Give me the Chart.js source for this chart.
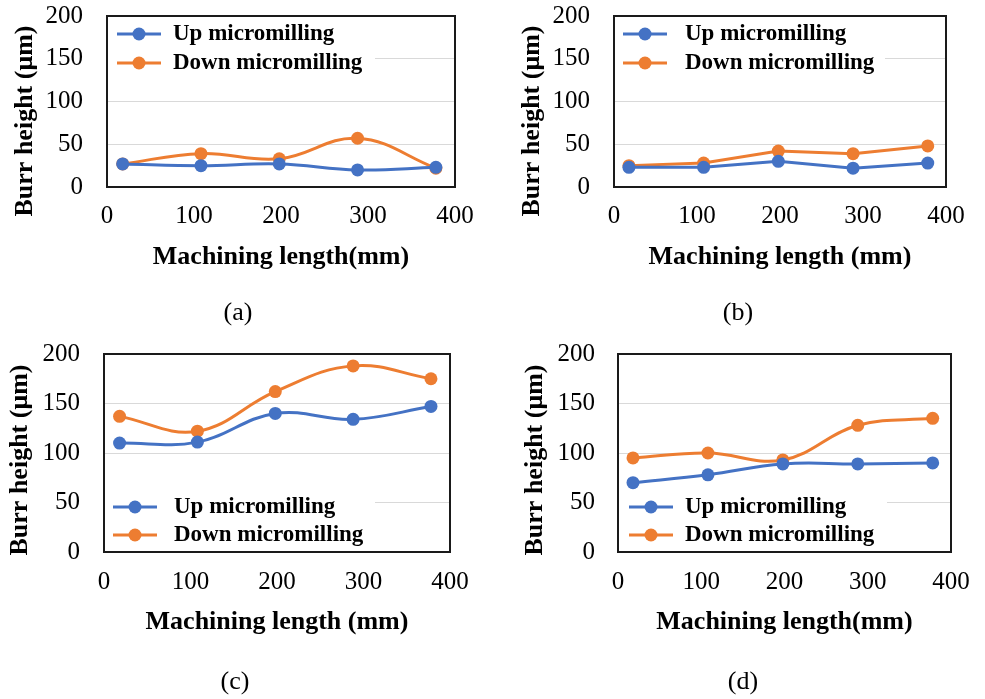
<!DOCTYPE html>
<html>
<head>
<meta charset="utf-8">
<script src="https://cdn.jsdelivr.net/npm/chart.js@4.4.1/dist/chart.umd.min.js"></script>
<style>
  html, body { margin: 0; padding: 0; background: #fff; }
  #page { position: relative; width: 985px; height: 699px; overflow: hidden; }
  canvas { position: absolute; }
</style>
</head>
<body>
<div id="page">
  <canvas id="panelA" width="490" height="340" style="left:0;top:0"></canvas>
  <canvas id="panelB" width="495" height="340" style="left:490px;top:0"></canvas>
  <canvas id="panelC" width="490" height="359" style="left:0;top:340px"></canvas>
  <canvas id="panelD" width="495" height="359" style="left:490px;top:340px"></canvas>
</div>
<script>
// machining length (mm) at each measurement
const lengths = [18, 108, 198, 288, 378];

// burr height (µm) for each test
const upA = [27, 25, 27, 20, 23];
const downA = [27, 39, 33, 57, 22];
const upB = [23, 23, 30, 22, 28];
const downB = [25, 28, 42, 39, 48];
const upC = [110, 111, 140, 134, 147];
const downC = [137, 122, 162, 188, 175];
const upD = [70, 78, 89, 89, 90];
const downD = [95, 100, 93, 128, 135];

const seriesNames = ["Up micromilling", "Down micromilling"];
const xTicks = [0, 100, 200, 300, 400];
const yTicks = [0, 50, 100, 150, 200];

const SERIF = "'Liberation Serif', 'Times New Roman', serif";
const BLUE = "#4472C4";
const ORANGE = "#ED7D31";

// legend box, frame and the free-standing texts of each panel
const panelDecor = {
    id: "panelDecor",
    beforeDatasetsDraw(chart, args, o) {
        const ctx = chart.ctx;
        const a = chart.chartArea;
        const lg = o.legend;
        ctx.save();
        ctx.fillStyle = "#fff";
        ctx.fillRect(a.left + 1, lg.y - 16, lg.right - a.left - 1, lg.gap + 32);
        chart.data.datasets.forEach((ds, i) => {
            const y = lg.y + i * lg.gap;
            ctx.strokeStyle = ds.borderColor;
            ctx.lineWidth = 3;
            ctx.beginPath();
            ctx.moveTo(lg.x, y);
            ctx.lineTo(lg.x + 44, y);
            ctx.stroke();
            ctx.fillStyle = ds.borderColor;
            ctx.beginPath();
            ctx.arc(lg.x + 22, y, 6.5, 0, Math.PI * 2);
            ctx.fill();
            ctx.fillStyle = "#000";
            ctx.font = "bold 23px " + SERIF;
            ctx.textAlign = "left";
            ctx.textBaseline = "middle";
            ctx.fillText(ds.label, lg.textX, y);
        });
        ctx.strokeStyle = "#1a1a1a";
        ctx.lineWidth = 2;
        ctx.strokeRect(a.left, a.top, a.right - a.left, a.bottom - a.top);
        ctx.restore();
    },
    afterDraw(chart, args, o) {
        const ctx = chart.ctx;
        ctx.save();
        ctx.fillStyle = "#000";
        ctx.textAlign = "center";
        ctx.textBaseline = "middle";
        // y axis title
        ctx.translate(o.yTitle.x, o.yTitle.y);
        ctx.rotate(-Math.PI / 2);
        ctx.font = "bold 26px " + SERIF;
        ctx.fillText("Burr height (\u03bcm)", 0, 0);
        ctx.restore();
        ctx.save();
        ctx.fillStyle = "#000";
        ctx.textAlign = "center";
        ctx.textBaseline = "middle";
        ctx.font = "26px " + SERIF;
        ctx.fillText(o.caption.text, o.caption.x, o.caption.y);
        ctx.restore();
    }
};

// no extra room for tick labels overhanging the plot edges
function noOverhang(s) {
    s.paddingTop = 0;
    s.paddingBottom = 0;
    s.paddingLeft = 0;
    s.paddingRight = 0;
}

function makePanel(id, up, down, p) {
    const w = p.w, h = p.h, area = p.area;
    return new Chart(document.getElementById(id), {
        type: "line",
        data: {
            datasets: [
                {
                    label: seriesNames[0],
                    data: lengths.map((x, i) => ({ x: x, y: up[i] })),
                    borderColor: BLUE,
                    backgroundColor: BLUE,
                    borderWidth: 3,
                    pointRadius: 6.5,
                    pointBorderWidth: 0,
                    tension: p.tension
                },
                {
                    label: seriesNames[1],
                    data: lengths.map((x, i) => ({ x: x, y: down[i] })),
                    borderColor: ORANGE,
                    backgroundColor: ORANGE,
                    borderWidth: 3,
                    pointRadius: 6.5,
                    pointBorderWidth: 0,
                    tension: p.tension
                }
            ]
        },
        options: {
            responsive: false,
            animation: false,
            devicePixelRatio: 1,
            layout: { padding: { top: area.t, right: w - area.r, left: 0, bottom: 0 } },
            scales: {
                x: {
                    type: "linear",
                    min: xTicks[0],
                    max: xTicks[xTicks.length - 1],
                    afterBuildTicks: (s) => { s.ticks = xTicks.map(v => ({ value: v })); },
                    afterFit: (s) => { s.height = h - area.b; noOverhang(s); },
                    grid: { display: false, drawTicks: false },
                    border: { display: false },
                    ticks: {
                        color: "#000",
                        padding: p.xPad,
                        maxRotation: 0,
                        autoSkip: false,
                        font: { family: SERIF, size: 25, lineHeight: 1 }
                    },
                    title: {
                        display: true,
                        text: p.xTitle,
                        color: "#000",
                        font: { family: SERIF, size: 26, weight: "bold", lineHeight: 1.2 },
                        padding: { top: 0, bottom: p.xTitlePad }
                    }
                },
                y: {
                    min: yTicks[0],
                    max: yTicks[yTicks.length - 1],
                    afterBuildTicks: (s) => { s.ticks = yTicks.map(v => ({ value: v })); },
                    afterFit: (s) => { s.width = area.l; noOverhang(s); },
                    grid: { color: "#d9d9d9", lineWidth: 1, drawTicks: false },
                    border: { display: false },
                    ticks: {
                        color: "#000",
                        padding: p.yPad,
                        font: { family: SERIF, size: 25, lineHeight: 1 }
                    }
                }
            },
            plugins: {
                legend: { display: false },
                tooltip: { enabled: false },
                panelDecor: {
                    legend: p.legend,
                    yTitle: p.yTitle,
                    caption: p.caption
                }
            }
        },
        plugins: [panelDecor]
    });
}

makePanel("panelA", upA, downA, {
    w: 490, h: 340, area: { l: 107, t: 16, r: 455, b: 187 }, tension: 0.4,
    xPad: 17, yPad: 24, xTitle: "Machining length(mm)", xTitlePad: 67,
    yTitle: { x: 25, y: 121 }, caption: { text: "(a)", x: 238, y: 313 },
    legend: { x: 117, y: 34, gap: 29, textX: 173, right: 375 }
});
makePanel("panelB", upB, downB, {
    w: 495, h: 340, area: { l: 124, t: 16, r: 456, b: 187 }, tension: 0,
    xPad: 17, yPad: 24, xTitle: "Machining length (mm)", xTitlePad: 67,
    yTitle: { x: 42, y: 121 }, caption: { text: "(b)", x: 248, y: 313 },
    legend: { x: 133, y: 34, gap: 29, textX: 195, right: 395 }
});
makePanel("panelC", upC, downC, {
    w: 490, h: 359, area: { l: 104, t: 14, r: 450, b: 212 }, tension: 0.4,
    xPad: 18, yPad: 24, xTitle: "Machining length (mm)", xTitlePad: 61,
    yTitle: { x: 20, y: 120 }, caption: { text: "(c)", x: 235, y: 342 },
    legend: { x: 113, y: 167, gap: 28, textX: 174, right: 375 }
});
makePanel("panelD", upD, downD, {
    w: 495, h: 359, area: { l: 128, t: 14, r: 461, b: 212 }, tension: 0.4,
    xPad: 18, yPad: 23, xTitle: "Machining length(mm)", xTitlePad: 61,
    yTitle: { x: 45, y: 120 }, caption: { text: "(d)", x: 253, y: 342 },
    legend: { x: 139, y: 167, gap: 28, textX: 195, right: 397 }
});
</script>
</body>
</html>
